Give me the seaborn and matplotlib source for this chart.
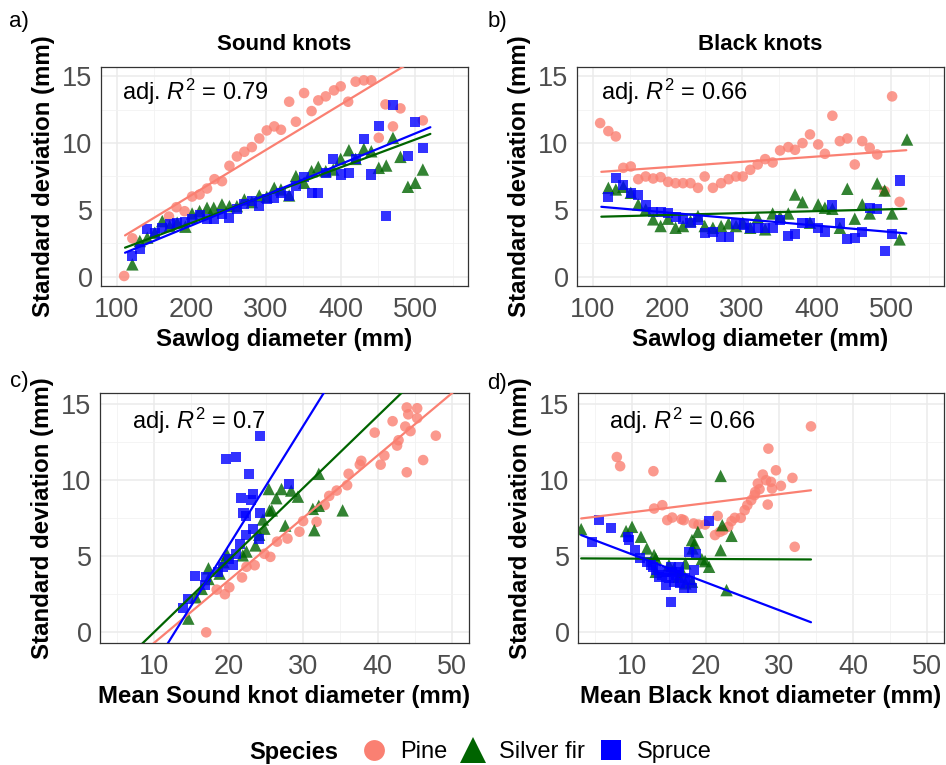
import numpy as np
import pandas as pd
import matplotlib
matplotlib.use("Agg")
import matplotlib.pyplot as plt
from matplotlib.lines import Line2D
from matplotlib.ticker import MultipleLocator
import seaborn as sns

# ---------------------------------------------------------------- data
species = ["Pine", "Silver fir", "Spruce"]

# a) Sound knots: SD vs sawlog diameter
a_pine_x = [110, 121, 170, 180, 191, 201, 211, 221, 231, 241, 251, 261, 271, 281, 291, 301, 311, 320,
            331, 340, 351, 361, 370, 380, 391, 400, 410, 420, 431, 441, 451, 460, 470, 480, 510]
a_pine_y = [0.05, 2.87, 4.5, 5.2, 4.9, 6.0, 6.15, 6.6, 7.3, 7.15, 8.3, 9.0, 9.35, 9.7, 10.35, 10.95, 11.25, 11.0,
            13.1, 11.6, 13.75, 12.4, 13.2, 13.5, 13.95, 14.25, 13.1, 14.6, 14.7, 14.7, 10.4, 12.9, 11.25, 12.6, 11.7]
a_fir_x = [121, 131, 141, 151, 161, 171, 181, 192, 201, 211, 221, 230, 241, 251, 261, 271, 281, 291, 301, 311,
           320, 331, 340, 351, 361, 370, 380, 390, 400, 411, 420, 431, 441, 451, 461, 470, 480, 490, 500, 510]
a_fir_y = [0.92, 2.67, 2.92, 3.29, 4.16, 3.79, 4.04, 3.74, 4.73, 4.91, 5.16, 5.16, 5.41, 5.28, 5.28, 5.78, 5.58,
           6.08, 5.98, 6.65, 6.53, 6.08, 7.53, 7.03, 7.9, 8.22, 7.9, 8.02, 8.82, 9.47, 8.82, 9.57, 9.39, 8.15, 8.32,
           10.39, 8.97, 6.73, 7.03, 8.02]
a_spr_x = [121, 131, 141, 151, 161, 171, 181, 191, 201, 211, 221, 230, 241, 251, 261, 271, 281, 291, 301, 311,
           320, 331, 340, 351, 361, 370, 380, 390, 400, 411, 420, 431, 441, 451, 461, 470, 490, 500, 510]
a_spr_y = [1.55, 2.09, 3.59, 3.29, 3.66, 3.91, 3.99, 4.09, 4.29, 4.61, 4.29, 4.34, 4.66, 4.41, 5.08, 5.41, 5.66,
           5.28, 5.78, 5.91, 6.28, 6.03, 6.78, 7.48, 6.23, 6.28, 7.77, 8.82, 7.65, 7.77, 8.82, 10.32, 7.65, 11.31,
           4.54, 12.88, 9.07, 11.56, 9.64]

# b) Black knots: SD vs sawlog diameter
b_pine_x = [110, 121, 131, 141, 151, 161, 171, 181, 191, 201, 211, 221, 231, 241, 250, 261, 272, 282, 292, 301,
            311, 321, 331, 341, 351, 362, 371, 381, 391, 402, 411, 421, 431, 441, 451, 461, 471, 481, 491, 501, 511]
b_pine_y = [11.5, 10.9, 10.5, 8.15, 8.25, 7.3, 7.5, 7.35, 7.45, 7.1, 7.0, 7.0, 7.0, 6.65, 7.5, 6.65, 7.0, 7.3, 7.5,
            7.5, 8.0, 8.4, 8.8, 8.55, 9.45, 9.7, 9.5, 10.0, 10.65, 9.9, 9.2, 12.05, 10.15, 10.35, 8.4, 10.15, 9.65,
            9.15, 6.4, 13.5, 5.6]
b_fir_x = [121, 131, 141, 151, 161, 171, 181, 191, 201, 211, 221, 231, 241, 250, 261, 272, 282, 292, 301, 311,
           321, 331, 341, 351, 362, 371, 381, 391, 402, 411, 421, 431, 441, 451, 461, 471, 481, 491, 501, 511, 521]
b_fir_y = [6.65, 6.53, 6.73, 6.28, 5.41, 5.03, 4.29, 3.79, 4.34, 3.66, 3.79, 4.16, 4.54, 3.79, 3.66, 3.79, 3.99,
           3.79, 4.04, 3.66, 4.41, 3.54, 4.73, 4.49, 4.73, 6.15, 5.58, 4.04, 5.41, 5.16, 5.08, 3.66, 6.58, 4.34,
           5.41, 4.73, 6.98, 6.45, 4.73, 2.79, 10.27]
b_spr_x = [121, 131, 141, 151, 161, 171, 181, 191, 201, 211, 221, 231, 241, 250, 261, 272, 282, 292, 302, 311,
           321, 331, 341, 351, 362, 371, 381, 391, 402, 411, 421, 431, 441, 451, 461, 471, 481, 491, 501, 511]
b_spr_y = [5.98, 7.4, 6.83, 6.23, 6.15, 5.33, 4.83, 4.83, 4.78, 4.49, 4.29, 4.04, 4.21, 3.24, 3.36, 2.99, 2.97,
           3.91, 3.86, 3.66, 3.66, 3.66, 3.66, 4.24, 3.04, 3.16, 3.99, 3.99, 3.66, 3.36, 5.36, 4.04, 2.84, 2.87,
           3.34, 5.11, 5.03, 1.92, 3.21, 7.2]

# c) Sound knots: SD vs mean knot diameter
c_pine_x = [43.9, 45.3, 44.1, 45.3, 42.0, 43.7, 44.4, 39.6, 47.8, 42.8, 42.6, 40.9, 37.8, 37.6, 40.4, 46.1, 43.9,
            36.1, 35.9, 34.5, 33.5, 32.9, 30.0, 31.8, 29.5, 27.9, 26.5, 24.8, 25.6, 23.5, 22.4, 21.8, 20.1, 19.5,
            18.4, 17.0]
c_pine_y = [14.75, 14.7, 14.3, 14.05, 13.85, 13.5, 13.2, 13.1, 12.9, 12.6, 12.25, 11.6, 11.25, 11.0, 11.0, 11.3,
            10.5, 10.4, 9.65, 9.3, 8.95, 8.35, 7.3, 7.25, 6.6, 6.15, 5.95, 5.15, 4.95, 4.4, 4.3, 3.6, 2.95, 2.5,
            2.8, 0.0]
c_fir_x = [32.1, 25.4, 27.1, 28.4, 29.3, 26.4, 25.8, 25.5, 24.6, 35.3, 32.1, 31.3, 27.6, 31.5, 24.8, 24.1, 23.6,
           22.4, 21.9, 19.8, 19.3, 17.3, 18.8, 17.3, 16.4, 15.6, 14.6]
c_fir_y = [10.4, 9.4, 9.4, 9.3, 8.9, 8.8, 8.0, 8.0, 7.4, 8.0, 8.3, 8.1, 7.0, 6.7, 6.8, 6.4, 5.7, 5.3, 5.05, 5.1,
           4.6, 4.2, 3.85, 3.5, 2.85, 2.3, 0.9]
c_spr_x = [24.2, 19.7, 21.0, 22.7, 28.1, 21.6, 23.3, 23.0, 22.0, 22.3, 24.2, 23.3, 22.3, 24.1, 21.5, 21.0, 20.1,
           20.6, 19.3, 18.6, 15.5, 17.0, 16.8, 14.6, 13.9]
c_spr_y = [12.9, 11.4, 11.5, 10.4, 9.7, 8.8, 9.1, 8.7, 7.8, 7.6, 7.8, 6.8, 6.4, 6.15, 5.8, 5.15, 4.8, 4.4, 4.3,
           3.95, 3.7, 3.6, 3.1, 2.2, 1.6]

# d) Black knots: SD vs mean knot diameter
d_pine_x = [8.0, 8.45, 12.95, 13.04, 14.15, 14.82, 15.49, 16.74, 17.05, 18.39, 19.05, 19.94, 21.28, 21.64, 21.95,
            22.4, 23.06, 23.51, 23.95, 24.76, 25.29, 25.65, 26.18, 26.63, 26.72, 27.07, 27.3, 27.74, 28.19, 28.41,
            28.5, 28.85, 28.99, 29.52, 30.19, 31.75, 32.06, 34.26]
d_pine_y = [11.5, 10.9, 10.57, 8.12, 8.34, 7.36, 7.53, 7.42, 7.36, 7.14, 7.07, 7.07, 6.38, 7.64, 6.59, 6.7, 6.92,
            7.29, 7.51, 7.51, 8.01, 8.34, 8.67, 9.0, 9.21, 9.76, 9.39, 10.35, 9.98, 8.38, 12.05, 9.87, 9.43, 10.63,
            9.61, 10.13, 5.61, 13.51]
d_fir_x = [3.18, 9.25, 10.06, 11.26, 12.06, 13.04, 13.26, 13.26, 15.05, 15.71, 16.83, 17.27, 18.16, 18.25, 18.52,
           18.96, 19.5, 19.94, 20.48, 22.04, 22.04, 22.26, 23.51, 22.84, 17.27, 18.16, 16.38]
d_fir_y = [6.77, 6.64, 6.92, 6.27, 5.5, 5.07, 4.85, 3.97, 4.41, 4.15, 3.97, 4.52, 6.05, 5.5, 5.83, 6.59, 4.8,
           4.67, 4.3, 10.26, 5.39, 7.03, 6.33, 2.77, 3.21, 3.32, 3.65]
d_spr_x = [4.58, 5.6, 7.25, 9.48, 9.7, 10.5, 11.13, 12.02, 12.6, 12.91, 13.26, 13.7, 14.15, 14.6, 14.69, 15.27,
           15.05, 15.49, 15.71, 16.03, 16.38, 16.6, 17.05, 17.18, 17.72, 17.94, 18.16, 18.39, 18.7, 20.48, 16.38,
           15.27]
d_spr_y = [5.94, 7.36, 6.86, 6.27, 6.05, 5.39, 4.85, 4.63, 4.41, 4.3, 4.08, 3.65, 3.76, 3.97, 3.10, 1.97, 3.54,
           3.97, 3.32, 3.76, 3.97, 3.21, 2.88, 3.54, 5.28, 3.43, 2.88, 4.08, 5.17, 7.29, 4.3, 4.3]

# fitted lines per species (Pine, Silver fir, Spruce): intercept, slope
a_intercepts = [-0.682, -0.147, -0.766]
a_slopes = [0.03392, 0.020836, 0.022988]
b_intercepts = [7.407, 4.329, 5.774]
b_slopes = [0.003967, 0.001445, -0.004873]
c_intercepts = [-4.796, -4.717, -10.02]
c_slopes = [0.41, 0.4727, 0.785]
d_intercepts = [7.28, 4.857, 6.965]
d_slopes = [0.0595, -0.00225, -0.184]

adj_r2 = ["0.79", "0.66", "0.7", "0.66"]
panel_tags = ["a)", "b)", "c)", "d)"]
panel_titles = ["Sound knots", "Black knots", "", ""]
x_titles = ["Sawlog diameter (mm)", "Sawlog diameter (mm)",
            "Mean Sound knot diameter (mm)", "Mean Black knot diameter (mm)"]
y_title = "Standard deviation (mm)"

# ---------------------------------------------------------------- style
sns.set_theme(style="white")
plt.rcParams["font.family"] = ["Liberation Sans", "DejaVu Sans"]
plt.rcParams["mathtext.fontset"] = "custom"
plt.rcParams["mathtext.rm"] = "Liberation Sans"
plt.rcParams["mathtext.it"] = "Liberation Sans:italic"
plt.rcParams["text.color"] = "black"
plt.rcParams["axes.labelcolor"] = "black"

palette = {"Pine": "#FA8072", "Silver fir": "#006400", "Spruce": "#0000FF"}
markers = {"Pine": "o", "Silver fir": "^", "Spruce": "s"}
sizes = {"Pine": 58, "Silver fir": 80, "Spruce": 52}


def long_frame(pine, fir, spr):
    rows = []
    for name, (xs, ys) in zip(species, [pine, fir, spr]):
        rows.append(pd.DataFrame({"x": xs, "sd": ys, "Species": name}))
    return pd.concat(rows, ignore_index=True)


def line_frame(intercepts, slopes, x_lo, x_hi):
    rows = []
    for name, b0, b1 in zip(species, intercepts, slopes):
        xs = np.array([x_lo, x_hi])
        rows.append(pd.DataFrame({"x": xs, "sd": b0 + b1 * xs, "Species": name}))
    return pd.concat(rows, ignore_index=True)


panels = [
    dict(points=long_frame((a_pine_x, a_pine_y), (a_fir_x, a_fir_y), (a_spr_x, a_spr_y)),
         lines=line_frame(a_intercepts, a_slopes, 111.2, 520.1),
         xlim=(79, 570.5), xmajor=100, xminor=50, ann_x=107),
    dict(points=long_frame((b_pine_x, b_pine_y), (b_fir_x, b_fir_y), (b_spr_x, b_spr_y)),
         lines=line_frame(b_intercepts, b_slopes, 111.6, 520.0),
         xlim=(79, 570.5), xmajor=100, xminor=50, ann_x=111),
    dict(points=long_frame((c_pine_x, c_pine_y), (c_fir_x, c_fir_y), (c_spr_x, c_spr_y)),
         lines=line_frame(c_intercepts, c_slopes, 2.75, 52.25),
         xlim=(2.75, 52.25), xmajor=10, xminor=5, ann_x=7.0),
    dict(points=long_frame((d_pine_x, d_pine_y), (d_fir_x, d_fir_y), (d_spr_x, d_spr_y)),
         lines=line_frame(d_intercepts, d_slopes, 3.18, 34.26),
         xlim=(2.75, 52.25), xmajor=10, xminor=5, ann_x=7.0),
]

W, H = 946, 765
fig = plt.figure(figsize=(W / 100, H / 100), dpi=100)

# axes boxes in pixels: left, top, right, bottom
boxes = [(101, 67, 468, 286), (577, 67, 944, 286),
         (100, 393, 469, 643), (578, 393, 944, 643)]
tag_pos = [(19, 22), (497, 22), (19, 382), (497, 383)]

for i, (p, (l, t, r, b)) in enumerate(zip(panels, boxes)):
    ax = fig.add_axes([l / W, 1 - b / H, (r - l) / W, (b - t) / H])
    ax.set_facecolor("white")
    ax.set_axisbelow(True)

    sns.lineplot(data=p["lines"], x="x", y="sd", hue="Species", palette=palette,
                 estimator=None, sort=False, lw=1.6, legend=False, ax=ax, zorder=3)
    sns.scatterplot(data=p["points"], x="x", y="sd", hue="Species", style="Species",
                    size="Species", palette=palette, markers=markers, sizes=sizes,
                    alpha=0.8, linewidth=0, legend=False, ax=ax, zorder=2)

    ax.set_xlim(*p["xlim"])
    ax.set_ylim(-0.7, 15.7)
    ax.xaxis.set_major_locator(MultipleLocator(p["xmajor"]))
    ax.xaxis.set_minor_locator(MultipleLocator(p["xminor"]))
    ax.yaxis.set_major_locator(MultipleLocator(5))
    ax.yaxis.set_minor_locator(MultipleLocator(2.5))
    ax.grid(which="major", color="#EBEBEB", lw=1.1)
    ax.grid(which="minor", color="#F2F2F2", lw=0.6)
    for s in ax.spines.values():
        s.set_color("#333333")
        s.set_linewidth(0.9)
    ax.tick_params(which="major", length=3.6, width=0.9, color="#333333",
                   labelsize=19.5, labelcolor="#4D4D4D", pad=2.5)
    ax.tick_params(axis="x", which="major", pad=4)
    ax.tick_params(which="minor", length=0)
    ax.set_xlabel(x_titles[i], fontsize=17.3, fontweight="bold", labelpad=4)
    ax.set_ylabel(y_title, fontsize=17.3, fontweight="bold", labelpad=5)

    ax.text(p["ann_x"], 13.85, r"adj. $R^2$ = " + adj_r2[i], fontsize=17,
            ha="left", va="center", zorder=5)
    if panel_titles[i]:
        ax.text(0.5, 1 + (t - 45) / (b - t), panel_titles[i], transform=ax.transAxes,
                ha="center", va="center", fontsize=16, fontweight="bold")
    fig.text(tag_pos[i][0] / W, 1 - tag_pos[i][1] / H, panel_tags[i], fontsize=16,
             ha="center", va="center")

# shared legend along the bottom
fig.text(294 / W, 1 - 752 / H, "Species", fontsize=17, fontweight="bold",
         ha="center", va="center")
handles = [
    Line2D([], [], ls="", marker="o", markersize=15, color=palette["Pine"], markeredgewidth=0),
    Line2D([], [], ls="", marker="^", markersize=19, color=palette["Silver fir"], markeredgewidth=0),
    Line2D([], [], ls="", marker="s", markersize=15, color=palette["Spruce"], markeredgewidth=0),
]
fig.legend(handles, species, loc="center", bbox_to_anchor=(537 / W, 1 - 752 / H),
           ncol=3, frameon=False, fontsize=17, handlelength=1.0, handletextpad=0.6,
           columnspacing=0.6)

fig.savefig("out.png", dpi=100)
